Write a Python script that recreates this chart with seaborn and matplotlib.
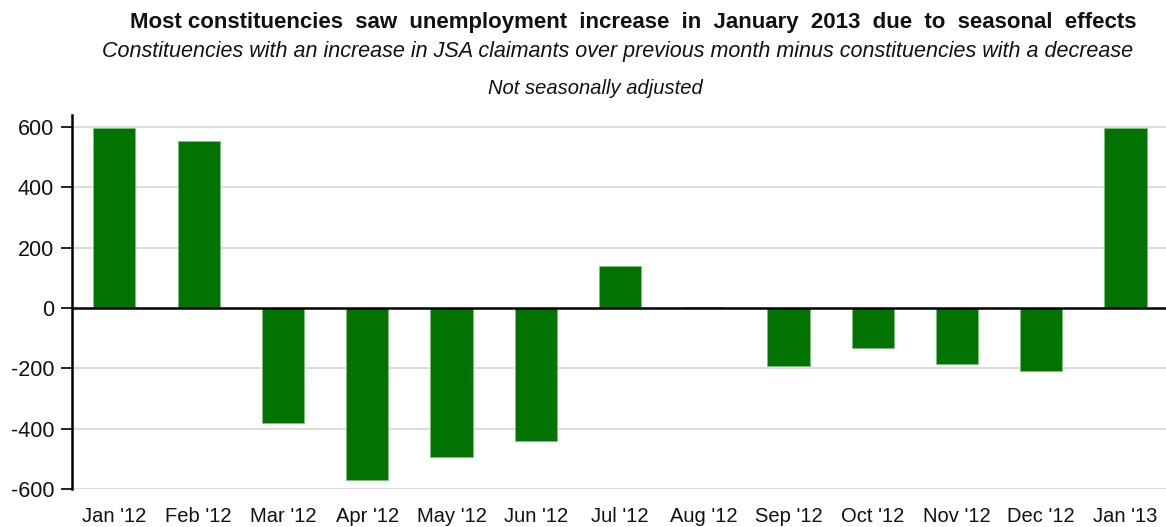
import matplotlib
matplotlib.use("Agg")
import matplotlib.pyplot as plt
import seaborn as sns
import pandas as pd

# Net balance: constituencies with an increase in JSA claimants minus those with a decrease
months = ["Jan '12", "Feb '12", "Mar '12", "Apr '12", "May '12", "Jun '12", "Jul '12",
          "Aug '12", "Sep '12", "Oct '12", "Nov '12", "Dec '12", "Jan '13"]
net_balance = [598, 552, -380, -571, -494, -440, 139, 2, -191, -132, -185, -210, 598]
y_ticks = [-600, -400, -200, 0, 200, 400, 600]

df = pd.DataFrame({"month": months, "net": net_balance})

sns.set_theme(style="white")
plt.rcParams["font.family"] = ["Liberation Sans", "DejaVu Sans"]

fig = plt.figure(figsize=(11.66, 5.27), dpi=100)
ax = fig.add_axes([0.062, 0.072, 0.938, 0.71])

sns.barplot(data=df, x="month", y="net", color="#007300", saturation=1,
            width=0.5, edgecolor="#7fc07f", linewidth=0.6, ax=ax, zorder=3)

ax.set_xlim(-0.5, 12.48)
ax.set_ylim(-600, 640)
ax.set_yticks(y_ticks)
ax.set_yticklabels([str(v) for v in y_ticks], fontsize=15.5, color="#111111")
ax.tick_params(axis="x", labelsize=14.5, colors="#111111", length=0, pad=13)
ax.tick_params(axis="y", left=True, length=8, width=1.2, color="black", pad=5)
ax.set_xlabel("")
ax.set_ylabel("")

for v in y_ticks:
    if v != 0:
        ax.axhline(v, color="#d9d9d9", linewidth=1.3, zorder=0)
ax.axhline(0, color="black", linewidth=1.8, zorder=4)

for side in ["top", "right", "bottom"]:
    ax.spines[side].set_visible(False)
ax.spines["left"].set_color("black")
ax.spines["left"].set_linewidth(1.8)
ax.spines["left"].set_bounds(-600, 640)

fig.text(0.543, 0.957, "Most constituencies  saw  unemployment  increase  in  January  2013  due  to  seasonal  effects",
         ha="center", va="center", fontsize=16, fontweight="bold", color="#111111")
fig.text(0.530, 0.903, "Constituencies with an increase in JSA claimants over previous month minus constituencies with a decrease",
         ha="center", va="center", fontsize=15.5, fontstyle="italic", color="#111111")
fig.text(0.511, 0.833, "Not seasonally adjusted",
         ha="center", va="center", fontsize=14.5, fontstyle="italic", color="#111111")

fig.savefig("out.png", dpi=100, facecolor="white")
